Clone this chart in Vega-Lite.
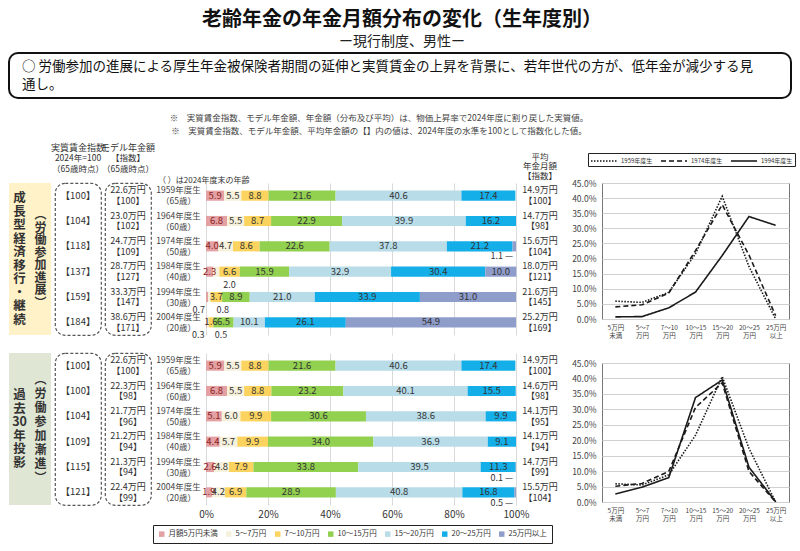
{
  "$schema": "https://vega.github.io/schema/vega-lite/v6.json",
  "background": "white",
  "padding": {"left": 8, "top": 10, "right": 0, "bottom": 0},
  "config": {
    "font": "Noto Sans CJK JP",
    "view": {"stroke": null},
    "text": {"font": "Noto Sans CJK JP", "color": "#333"},
    "axis": {"labelFont": "Noto Sans CJK JP"},
    "legend": {"labelFont": "Noto Sans CJK JP"},
    "title": {"font": "Noto Sans CJK JP", "subtitleFont": "Noto Sans CJK JP"}
  },
  "title": {
    "text": "老齢年金の年金月額分布の変化（生年度別）",
    "subtitle": "ー現行制度、男性ー",
    "fontSize": 20, "fontWeight": "bold", "color": "#111",
    "subtitleFontSize": 14, "subtitleColor": "#222", "subtitlePadding": 5,
    "anchor": "middle", "offset": 3
  },
  "datasets": {
    "dist": [
      {"s":"成長","cohort":"1959年度生","k":1,"cat":"月額5万円未満","v":5.9},
      {"s":"成長","cohort":"1959年度生","k":2,"cat":"5～7万円","v":5.5},
      {"s":"成長","cohort":"1959年度生","k":3,"cat":"7～10万円","v":8.8},
      {"s":"成長","cohort":"1959年度生","k":4,"cat":"10～15万円","v":21.6},
      {"s":"成長","cohort":"1959年度生","k":5,"cat":"15～20万円","v":40.6},
      {"s":"成長","cohort":"1959年度生","k":6,"cat":"20～25万円","v":17.4},
      {"s":"成長","cohort":"1959年度生","k":7,"cat":"25万円以上","v":0},
      {"s":"成長","cohort":"1964年度生","k":1,"cat":"月額5万円未満","v":6.8},
      {"s":"成長","cohort":"1964年度生","k":2,"cat":"5～7万円","v":5.5},
      {"s":"成長","cohort":"1964年度生","k":3,"cat":"7～10万円","v":8.7},
      {"s":"成長","cohort":"1964年度生","k":4,"cat":"10～15万円","v":22.9},
      {"s":"成長","cohort":"1964年度生","k":5,"cat":"15～20万円","v":39.9},
      {"s":"成長","cohort":"1964年度生","k":6,"cat":"20～25万円","v":16.2},
      {"s":"成長","cohort":"1964年度生","k":7,"cat":"25万円以上","v":0},
      {"s":"成長","cohort":"1974年度生","k":1,"cat":"月額5万円未満","v":4.0},
      {"s":"成長","cohort":"1974年度生","k":2,"cat":"5～7万円","v":4.7},
      {"s":"成長","cohort":"1974年度生","k":3,"cat":"7～10万円","v":8.6},
      {"s":"成長","cohort":"1974年度生","k":4,"cat":"10～15万円","v":22.6},
      {"s":"成長","cohort":"1974年度生","k":5,"cat":"15～20万円","v":37.8},
      {"s":"成長","cohort":"1974年度生","k":6,"cat":"20～25万円","v":21.2},
      {"s":"成長","cohort":"1974年度生","k":7,"cat":"25万円以上","v":1.1},
      {"s":"成長","cohort":"1984年度生","k":1,"cat":"月額5万円未満","v":2.3},
      {"s":"成長","cohort":"1984年度生","k":2,"cat":"5～7万円","v":2.0},
      {"s":"成長","cohort":"1984年度生","k":3,"cat":"7～10万円","v":6.6},
      {"s":"成長","cohort":"1984年度生","k":4,"cat":"10～15万円","v":15.9},
      {"s":"成長","cohort":"1984年度生","k":5,"cat":"15～20万円","v":32.9},
      {"s":"成長","cohort":"1984年度生","k":6,"cat":"20～25万円","v":30.4},
      {"s":"成長","cohort":"1984年度生","k":7,"cat":"25万円以上","v":10.0},
      {"s":"成長","cohort":"1994年度生","k":1,"cat":"月額5万円未満","v":0.7},
      {"s":"成長","cohort":"1994年度生","k":2,"cat":"5～7万円","v":0.8},
      {"s":"成長","cohort":"1994年度生","k":3,"cat":"7～10万円","v":3.7},
      {"s":"成長","cohort":"1994年度生","k":4,"cat":"10～15万円","v":8.9},
      {"s":"成長","cohort":"1994年度生","k":5,"cat":"15～20万円","v":21.0},
      {"s":"成長","cohort":"1994年度生","k":6,"cat":"20～25万円","v":33.9},
      {"s":"成長","cohort":"1994年度生","k":7,"cat":"25万円以上","v":31.0},
      {"s":"成長","cohort":"2004年度生","k":1,"cat":"月額5万円未満","v":0.3},
      {"s":"成長","cohort":"2004年度生","k":2,"cat":"5～7万円","v":0.5},
      {"s":"成長","cohort":"2004年度生","k":3,"cat":"7～10万円","v":1.6},
      {"s":"成長","cohort":"2004年度生","k":4,"cat":"10～15万円","v":6.5},
      {"s":"成長","cohort":"2004年度生","k":5,"cat":"15～20万円","v":10.1},
      {"s":"成長","cohort":"2004年度生","k":6,"cat":"20～25万円","v":26.1},
      {"s":"成長","cohort":"2004年度生","k":7,"cat":"25万円以上","v":54.9},
      {"s":"過去","cohort":"1959年度生","k":1,"cat":"月額5万円未満","v":5.9},
      {"s":"過去","cohort":"1959年度生","k":2,"cat":"5～7万円","v":5.5},
      {"s":"過去","cohort":"1959年度生","k":3,"cat":"7～10万円","v":8.8},
      {"s":"過去","cohort":"1959年度生","k":4,"cat":"10～15万円","v":21.6},
      {"s":"過去","cohort":"1959年度生","k":5,"cat":"15～20万円","v":40.6},
      {"s":"過去","cohort":"1959年度生","k":6,"cat":"20～25万円","v":17.4},
      {"s":"過去","cohort":"1959年度生","k":7,"cat":"25万円以上","v":0},
      {"s":"過去","cohort":"1964年度生","k":1,"cat":"月額5万円未満","v":6.8},
      {"s":"過去","cohort":"1964年度生","k":2,"cat":"5～7万円","v":5.5},
      {"s":"過去","cohort":"1964年度生","k":3,"cat":"7～10万円","v":8.8},
      {"s":"過去","cohort":"1964年度生","k":4,"cat":"10～15万円","v":23.2},
      {"s":"過去","cohort":"1964年度生","k":5,"cat":"15～20万円","v":40.1},
      {"s":"過去","cohort":"1964年度生","k":6,"cat":"20～25万円","v":15.5},
      {"s":"過去","cohort":"1964年度生","k":7,"cat":"25万円以上","v":0},
      {"s":"過去","cohort":"1974年度生","k":1,"cat":"月額5万円未満","v":5.1},
      {"s":"過去","cohort":"1974年度生","k":2,"cat":"5～7万円","v":6.0},
      {"s":"過去","cohort":"1974年度生","k":3,"cat":"7～10万円","v":9.9},
      {"s":"過去","cohort":"1974年度生","k":4,"cat":"10～15万円","v":30.6},
      {"s":"過去","cohort":"1974年度生","k":5,"cat":"15～20万円","v":38.6},
      {"s":"過去","cohort":"1974年度生","k":6,"cat":"20～25万円","v":9.9},
      {"s":"過去","cohort":"1974年度生","k":7,"cat":"25万円以上","v":0},
      {"s":"過去","cohort":"1984年度生","k":1,"cat":"月額5万円未満","v":4.4},
      {"s":"過去","cohort":"1984年度生","k":2,"cat":"5～7万円","v":5.7},
      {"s":"過去","cohort":"1984年度生","k":3,"cat":"7～10万円","v":9.9},
      {"s":"過去","cohort":"1984年度生","k":4,"cat":"10～15万円","v":34.0},
      {"s":"過去","cohort":"1984年度生","k":5,"cat":"15～20万円","v":36.9},
      {"s":"過去","cohort":"1984年度生","k":6,"cat":"20～25万円","v":9.1},
      {"s":"過去","cohort":"1984年度生","k":7,"cat":"25万円以上","v":0},
      {"s":"過去","cohort":"1994年度生","k":1,"cat":"月額5万円未満","v":2.6},
      {"s":"過去","cohort":"1994年度生","k":2,"cat":"5～7万円","v":4.8},
      {"s":"過去","cohort":"1994年度生","k":3,"cat":"7～10万円","v":7.9},
      {"s":"過去","cohort":"1994年度生","k":4,"cat":"10～15万円","v":33.8},
      {"s":"過去","cohort":"1994年度生","k":5,"cat":"15～20万円","v":39.5},
      {"s":"過去","cohort":"1994年度生","k":6,"cat":"20～25万円","v":11.3},
      {"s":"過去","cohort":"1994年度生","k":7,"cat":"25万円以上","v":0.1},
      {"s":"過去","cohort":"2004年度生","k":1,"cat":"月額5万円未満","v":1.9},
      {"s":"過去","cohort":"2004年度生","k":2,"cat":"5～7万円","v":4.2},
      {"s":"過去","cohort":"2004年度生","k":3,"cat":"7～10万円","v":6.9},
      {"s":"過去","cohort":"2004年度生","k":4,"cat":"10～15万円","v":28.9},
      {"s":"過去","cohort":"2004年度生","k":5,"cat":"15～20万円","v":40.8},
      {"s":"過去","cohort":"2004年度生","k":6,"cat":"20～25万円","v":16.8},
      {"s":"過去","cohort":"2004年度生","k":7,"cat":"25万円以上","v":0.5}
    ],
    "cols": [
      {"s":"成長","cohort":"1959年度生","age":"（65歳）","wage":"【100】","model":"22.6万円","mi":"【100】","avg":"14.9万円","ai":"【100】"},
      {"s":"成長","cohort":"1964年度生","age":"（60歳）","wage":"【104】","model":"23.0万円","mi":"【102】","avg":"14.7万円","ai":"【98】"},
      {"s":"成長","cohort":"1974年度生","age":"（50歳）","wage":"【118】","model":"24.7万円","mi":"【109】","avg":"15.6万円","ai":"【104】"},
      {"s":"成長","cohort":"1984年度生","age":"（40歳）","wage":"【137】","model":"28.7万円","mi":"【127】","avg":"18.0万円","ai":"【121】"},
      {"s":"成長","cohort":"1994年度生","age":"（30歳）","wage":"【159】","model":"33.3万円","mi":"【147】","avg":"21.6万円","ai":"【145】"},
      {"s":"成長","cohort":"2004年度生","age":"（20歳）","wage":"【184】","model":"38.6万円","mi":"【171】","avg":"25.2万円","ai":"【169】"},
      {"s":"過去","cohort":"1959年度生","age":"（65歳）","wage":"【100】","model":"22.6万円","mi":"【100】","avg":"14.9万円","ai":"【100】"},
      {"s":"過去","cohort":"1964年度生","age":"（60歳）","wage":"【100】","model":"22.3万円","mi":"【98】","avg":"14.6万円","ai":"【98】"},
      {"s":"過去","cohort":"1974年度生","age":"（50歳）","wage":"【104】","model":"21.7万円","mi":"【96】","avg":"14.1万円","ai":"【95】"},
      {"s":"過去","cohort":"1984年度生","age":"（40歳）","wage":"【109】","model":"21.2万円","mi":"【94】","avg":"14.1万円","ai":"【94】"},
      {"s":"過去","cohort":"1994年度生","age":"（30歳）","wage":"【115】","model":"21.3万円","mi":"【94】","avg":"14.7万円","ai":"【99】"},
      {"s":"過去","cohort":"2004年度生","age":"（20歳）","wage":"【121】","model":"22.4万円","mi":"【99】","avg":"15.5万円","ai":"【104】"}
    ],
    "sect": [
      {"s":"成長","part":"main","t":"成|長|型|経|済|移|行|・|継|続"},
      {"s":"成長","part":"sub","t":"︵|労|働|参|加|進|展|︶"},
      {"s":"過去","part":"main","t":"過|去|30|年|投|影"},
      {"s":"過去","part":"sub","t":"︵|労|働|参|加|漸|進|︶"}
    ]
  },
  "spacing": 7,
  "resolve": {"scale": {"color": "independent", "strokeDash": "independent"}},
  "vconcat": [
    {
      "bounds": "flush",
      "spacing": 14,
      "vconcat": [
        {
          "width": 782, "height": 45,
          "view": {"stroke": "#111", "strokeWidth": 2, "cornerRadius": 9, "fill": "white"},
          "data": {"values": [{"t": "○ 労働参加の進展による厚生年金被保険者期間の延伸と実質賃金の上昇を背景に、若年世代の方が、低年金が減少する見\n通し。"}]},
          "mark": {"type": "text", "align": "left", "baseline": "middle", "fontSize": 13.5, "lineBreak": "\n", "lineHeight": 18, "dx": 13, "dy": -9, "color": "#111"},
          "encoding": {
            "x": {"datum": 0, "type": "quantitative", "scale": {"domain": [0, 1]}, "axis": null},
            "text": {"field": "t"}
          }
        },
        {
          "width": 740, "height": 24,
          "data": {"values": [{"t": "※　実質賃金指数、モデル年金額、年金額（分布及び平均）は、物価上昇率で2024年度に割り戻した実質値。\n※　実質賃金指数、モデル年金額、平均年金額の【】内の値は、2024年度の水準を100として指数化した値。"}]},
          "mark": {"type": "text", "align": "center", "baseline": "middle", "fontSize": 8.5, "lineBreak": "\n", "lineHeight": 13, "dy": -6.5, "color": "#444"},
          "encoding": {"text": {"field": "t"}}
        }
      ]
    },
    {
      "spacing": 11,
      "resolve": {"scale": {"color": "independent", "strokeDash": "independent"}},
      "hconcat": [
        {
          "spacing": 11,
          "resolve": {"scale": {"color": "independent"}},
          "vconcat": [
            {
              "bounds": "flush",
              "spacing": 4,
              "resolve": {"scale": {"color": "independent"}},
              "hconcat": [
                {
                  "width": 42, "height": 152,
                  "view": {"fill": "#fff2c8", "stroke": null},
                  "data": {"name": "sect"},
                  "transform": [{"filter": "datum.s == '成長'"}],
                  "encoding": {
                    "x": {"field": "part", "type": "nominal", "axis": null, "scale": {"domain": ["main", "sub"], "padding": 0.5}},
                    "text": {"field": "t"}
                  },
                  "layer": [
                    {
                      "transform": [{"filter": "datum.part == 'main'"}],
                      "mark": {"type": "text", "lineBreak": "|", "fontSize": 12.5, "lineHeight": 13.5, "dy": -60.75, "fontWeight": "bold", "baseline": "middle", "color": "#333"}
                    },
                    {
                      "transform": [{"filter": "datum.part == 'sub'"}],
                      "mark": {"type": "text", "lineBreak": "|", "fontSize": 12, "lineHeight": 12.5, "dy": -43.75, "fontWeight": "bold", "baseline": "middle", "color": "#333"}
                    }
                  ]
                },
                {
                  "width": 46, "height": 152,
                  "view": {"stroke": "#555", "strokeDash": [3, 2], "strokeWidth": 1.2, "cornerRadius": 10},
                  "title": {"text": "実質賃金指数", "subtitle": ["2024年=100", "（65歳時点）"], "fontSize": 9, "fontWeight": "normal", "color": "#333", "subtitleFontSize": 8.5, "subtitleColor": "#333", "subtitlePadding": 1, "subtitleLineHeight": 10.5, "offset": 10, "anchor": "middle"},
                  "data": {"name": "cols"},
                  "transform": [{"filter": "datum.s == '成長'"}],
                  "mark": {"type": "text", "fontSize": 9.5},
                  "encoding": {
                    "y": {"field": "cohort", "type": "nominal", "axis": null},
                    "text": {"field": "wage"}
                  }
                },
                {
                  "width": 46, "height": 152,
                  "view": {"stroke": "#555", "strokeDash": [3, 2], "strokeWidth": 1.2, "cornerRadius": 10},
                  "title": {"text": "モデル年金額", "subtitle": ["【指数】", "（65歳時点）"], "fontSize": 9, "fontWeight": "normal", "color": "#333", "subtitleFontSize": 8.5, "subtitleColor": "#333", "subtitlePadding": 1, "subtitleLineHeight": 10.5, "offset": 10, "anchor": "middle"},
                  "data": {"name": "cols"},
                  "transform": [
                    {"filter": "datum.s == '成長'"},
                    {"calculate": "datum.model + '\\n' + datum.mi", "as": "lbl"}
                  ],
                  "mark": {"type": "text", "fontSize": 9, "lineBreak": "\n", "lineHeight": 10.5, "dy": -5.25},
                  "encoding": {
                    "y": {"field": "cohort", "type": "nominal", "axis": null},
                    "text": {"field": "lbl"}
                  }
                },
                {
                  "width": 47, "height": 152,
                  "title": {"text": "（ ）は2024年度末の年齢", "fontSize": 8, "fontWeight": "normal", "color": "#333", "anchor": "start", "offset": -2, "dx": 3},
                  "data": {"name": "cols"},
                  "transform": [
                    {"filter": "datum.s == '成長'"},
                    {"calculate": "datum.cohort + '\\n' + datum.age", "as": "lbl"}
                  ],
                  "mark": {"type": "text", "fontSize": 8.5, "lineBreak": "\n", "lineHeight": 11, "dy": -5.5, "color": "#444"},
                  "encoding": {
                    "y": {"field": "cohort", "type": "nominal", "axis": null},
                    "text": {"field": "lbl"}
                  }
                },
                {
                  "width": 310, "height": 152,
                  "data": {"name": "dist"},
                  "transform": [
                    {"filter": "datum.s == '成長'"},
                    {"stack": "v", "groupby": ["cohort"], "sort": [{"field": "k", "order": "ascending"}], "as": ["x0", "x1"]},
                    {"calculate": "(datum.x0 + datum.x1) / 2", "as": "xm"}
                  ],
                  "encoding": {
                    "y": {"field": "cohort", "type": "nominal", "axis": null, "scale": {"paddingInner": 0.6, "paddingOuter": 0.3}}
                  },
                  "layer": [
                    {
                      "mark": {"type": "bar"},
                      "encoding": {
                        "x": {"field": "x0", "type": "quantitative", "scale": {"domain": [0, 100], "nice": false}, "axis": {"title": null, "grid": true, "gridColor": "#dadada", "labels": false, "ticks": false, "domain": false, "values": [0, 20, 40, 60, 80, 100]}},
                        "x2": {"field": "x1"},
                        "color": {"field": "cat", "type": "nominal", "scale": {"domain": ["月額5万円未満", "5～7万円", "7～10万円", "10～15万円", "15～20万円", "20～25万円", "25万円以上"], "range": ["#e3a1a4", "#f6f1dc", "#fcd35f", "#92d050", "#b8dce8", "#14aee8", "#8f9dcb"]}, "legend": null}
                      }
                    },
                    {
                      "transform": [{"filter": "datum.v >= 1.5 && !(datum.k == 2 && datum.v <= 2)"}],
                      "mark": {"type": "text", "fontSize": 9.5},
                      "encoding": {
                        "x": {"field": "xm", "type": "quantitative"},
                        "text": {"field": "v", "type": "quantitative", "format": ".1f"},
                        "color": {"condition": {"test": "datum.k == 1", "value": "#8b1e1e"}, "value": "#333"}
                      }
                    },
                    {
                      "transform": [{"filter": "datum.k == 1 && datum.v > 0 && datum.v < 1.5"}],
                      "mark": {"type": "text", "fontSize": 9, "align": "right", "dx": -2, "dy": 13, "color": "#333"},
                      "encoding": {
                        "x": {"field": "xm", "type": "quantitative"},
                        "text": {"field": "v", "type": "quantitative", "format": ".1f"}
                      }
                    },
                    {
                      "transform": [{"filter": "datum.k == 2 && datum.v > 0 && datum.v <= 2"}],
                      "mark": {"type": "text", "fontSize": 9, "align": "left", "dx": 7, "dy": 13, "color": "#333"},
                      "encoding": {
                        "x": {"field": "xm", "type": "quantitative"},
                        "text": {"field": "v", "type": "quantitative", "format": ".1f"}
                      }
                    },
                    {
                      "transform": [
                        {"filter": "datum.k == 7 && datum.v > 0 && datum.v < 1.5"},
                        {"calculate": "format(datum.v, '.1f') + ' —'", "as": "lbl"}
                      ],
                      "mark": {"type": "text", "fontSize": 9, "align": "right", "dx": -3, "dy": 10, "color": "#333"},
                      "encoding": {
                        "x": {"field": "x1", "type": "quantitative"},
                        "text": {"field": "lbl"}
                      }
                    }
                  ]
                },
                {
                  "width": 40, "height": 152,
                  "title": {"text": ["平均", "年金月額", "【指数】"], "fontSize": 8.5, "fontWeight": "normal", "color": "#333", "lineHeight": 9.5, "offset": 3, "anchor": "middle"},
                  "data": {"name": "cols"},
                  "transform": [
                    {"filter": "datum.s == '成長'"},
                    {"calculate": "datum.avg + '\\n' + datum.ai", "as": "lbl"}
                  ],
                  "mark": {"type": "text", "fontSize": 9, "lineBreak": "\n", "lineHeight": 10.5, "dy": -5.25},
                  "encoding": {
                    "y": {"field": "cohort", "type": "nominal", "axis": null},
                    "text": {"field": "lbl"}
                  }
                }
              ]
            },
            {
              "bounds": "flush",
              "spacing": 4,
              "resolve": {"scale": {"color": "independent"}},
              "hconcat": [
                {
                  "width": 42, "height": 152,
                  "view": {"fill": "#dfe6d3", "stroke": null},
                  "data": {"name": "sect"},
                  "transform": [{"filter": "datum.s == '過去'"}],
                  "encoding": {
                    "x": {"field": "part", "type": "nominal", "axis": null, "scale": {"domain": ["main", "sub"], "padding": 0.5}},
                    "text": {"field": "t"}
                  },
                  "layer": [
                    {
                      "transform": [{"filter": "datum.part == 'main'"}],
                      "mark": {"type": "text", "lineBreak": "|", "fontSize": 12.5, "lineHeight": 13.5, "dy": -33.75, "fontWeight": "bold", "baseline": "middle", "color": "#333"}
                    },
                    {
                      "transform": [{"filter": "datum.part == 'sub'"}],
                      "mark": {"type": "text", "lineBreak": "|", "fontSize": 12, "lineHeight": 14, "dy": -49, "fontWeight": "bold", "baseline": "middle", "color": "#333"}
                    }
                  ]
                },
                {
                  "width": 46, "height": 152,
                  "view": {"stroke": "#555", "strokeDash": [3, 2], "strokeWidth": 1.2, "cornerRadius": 10},
                  "data": {"name": "cols"},
                  "transform": [{"filter": "datum.s == '過去'"}],
                  "mark": {"type": "text", "fontSize": 9.5},
                  "encoding": {
                    "y": {"field": "cohort", "type": "nominal", "axis": null},
                    "text": {"field": "wage"}
                  }
                },
                {
                  "width": 46, "height": 152,
                  "view": {"stroke": "#555", "strokeDash": [3, 2], "strokeWidth": 1.2, "cornerRadius": 10},
                  "data": {"name": "cols"},
                  "transform": [
                    {"filter": "datum.s == '過去'"},
                    {"calculate": "datum.model + '\\n' + datum.mi", "as": "lbl"}
                  ],
                  "mark": {"type": "text", "fontSize": 9, "lineBreak": "\n", "lineHeight": 10.5, "dy": -5.25},
                  "encoding": {
                    "y": {"field": "cohort", "type": "nominal", "axis": null},
                    "text": {"field": "lbl"}
                  }
                },
                {
                  "width": 47, "height": 152,
                  "data": {"name": "cols"},
                  "transform": [
                    {"filter": "datum.s == '過去'"},
                    {"calculate": "datum.cohort + '\\n' + datum.age", "as": "lbl"}
                  ],
                  "mark": {"type": "text", "fontSize": 8.5, "lineBreak": "\n", "lineHeight": 11, "dy": -5.5, "color": "#444"},
                  "encoding": {
                    "y": {"field": "cohort", "type": "nominal", "axis": null},
                    "text": {"field": "lbl"}
                  }
                },
                {
                  "width": 310, "height": 152,
                  "data": {"name": "dist"},
                  "transform": [
                    {"filter": "datum.s == '過去'"},
                    {"stack": "v", "groupby": ["cohort"], "sort": [{"field": "k", "order": "ascending"}], "as": ["x0", "x1"]},
                    {"calculate": "(datum.x0 + datum.x1) / 2", "as": "xm"}
                  ],
                  "encoding": {
                    "y": {"field": "cohort", "type": "nominal", "axis": null, "scale": {"paddingInner": 0.6, "paddingOuter": 0.3}}
                  },
                  "layer": [
                    {
                      "mark": {"type": "bar"},
                      "encoding": {
                        "x": {"field": "x0", "type": "quantitative", "scale": {"domain": [0, 100], "nice": false}, "axis": {"title": null, "grid": true, "gridColor": "#dadada", "ticks": false, "domain": false, "values": [0, 20, 40, 60, 80, 100], "labelExpr": "datum.value + '%'", "labelFlush": false, "labelFontSize": 10, "labelColor": "#333", "labelPadding": 4}},
                        "x2": {"field": "x1"},
                        "color": {
                          "field": "cat", "type": "nominal",
                          "scale": {"domain": ["月額5万円未満", "5～7万円", "7～10万円", "10～15万円", "15～20万円", "20～25万円", "25万円以上"], "range": ["#e3a1a4", "#f6f1dc", "#fcd35f", "#92d050", "#b8dce8", "#14aee8", "#8f9dcb"]},
                          "legend": {"orient": "none", "legendX": -53, "legendY": 172, "direction": "horizontal", "title": null, "strokeColor": "#222", "fillColor": "white", "padding": 5, "labelFontSize": 7.5, "labelColor": "#333", "labelOffset": 3, "symbolType": "square", "symbolSize": 30, "symbolStrokeWidth": 0, "columnPadding": 7}
                        }
                      }
                    },
                    {
                      "transform": [{"filter": "datum.v >= 1.5 && !(datum.k == 2 && datum.v <= 2)"}],
                      "mark": {"type": "text", "fontSize": 9.5},
                      "encoding": {
                        "x": {"field": "xm", "type": "quantitative"},
                        "text": {"field": "v", "type": "quantitative", "format": ".1f"},
                        "color": {"condition": {"test": "datum.k == 1", "value": "#8b1e1e"}, "value": "#333"}
                      }
                    },
                    {
                      "transform": [
                        {"filter": "datum.k == 7 && datum.v > 0 && datum.v < 1.5"},
                        {"calculate": "format(datum.v, '.1f') + ' —'", "as": "lbl"}
                      ],
                      "mark": {"type": "text", "fontSize": 9, "align": "right", "dx": -3, "dy": 11, "color": "#333"},
                      "encoding": {
                        "x": {"field": "x1", "type": "quantitative"},
                        "text": {"field": "lbl"}
                      }
                    }
                  ]
                },
                {
                  "width": 40, "height": 152,
                  "data": {"name": "cols"},
                  "transform": [
                    {"filter": "datum.s == '過去'"},
                    {"calculate": "datum.avg + '\\n' + datum.ai", "as": "lbl"}
                  ],
                  "mark": {"type": "text", "fontSize": 9, "lineBreak": "\n", "lineHeight": 10.5, "dy": -5.25},
                  "encoding": {
                    "y": {"field": "cohort", "type": "nominal", "axis": null},
                    "text": {"field": "lbl"}
                  }
                }
              ]
            }
          ]
        },
        {
          "bounds": "flush",
          "spacing": 44,
          "resolve": {"scale": {"strokeDash": "independent"}},
          "vconcat": [
            {
              "width": 187, "height": 136,
              "view": {"stroke": "#777", "strokeWidth": 1},
              "data": {"name": "dist"},
              "transform": [{"filter": "datum.s == '成長' && indexof(['1959年度生', '1974年度生', '1994年度生'], datum.cohort) >= 0"}],
              "mark": {"type": "line", "color": "#1a1a1a", "strokeWidth": 1.6},
              "encoding": {
                "x": {"field": "k", "type": "ordinal", "scale": {"padding": 0.5}, "axis": {"title": null, "labelAngle": 0, "labelFontSize": 6.5, "labelLineHeight": 8, "labelColor": "#444", "ticks": false, "domain": false, "labelPadding": 5, "labelExpr": "[['5万円','未満'],['5～7','万円'],['7～10','万円'],['10～15','万円'],['15～20','万円'],['20～25','万円'],['25万円','以上']][datum.value - 1]"}},
                "y": {"field": "v", "type": "quantitative", "scale": {"domain": [0, 45], "nice": false}, "axis": {"title": null, "values": [0, 5, 10, 15, 20, 25, 30, 35, 40, 45], "labelExpr": "format(datum.value, '.1f') + '%'", "grid": true, "gridColor": "#d0d0d0", "ticks": false, "domain": false, "labelFontSize": 8.5, "labelColor": "#444", "labelPadding": 6}},
                "strokeDash": {
                  "field": "cohort", "type": "nominal",
                  "scale": {"domain": ["1959年度生", "1974年度生", "1994年度生"], "range": [[1.5, 1.5], [5, 3], [1, 0]]},
                  "legend": {"orient": "none", "legendX": -14, "legendY": -30, "direction": "horizontal", "title": null, "strokeColor": "#222", "fillColor": "white", "padding": 2, "labelFontSize": 6, "labelColor": "#333", "labelOffset": 19, "symbolType": "M-1,0H4.2", "symbolSize": 100, "symbolFillColor": "transparent", "symbolStrokeColor": "#111", "symbolStrokeWidth": 1.5, "columnPadding": 5}
                }
              }
            },
            {
              "width": 187, "height": 139,
              "view": {"stroke": "#777", "strokeWidth": 1},
              "data": {"name": "dist"},
              "transform": [{"filter": "datum.s == '過去' && indexof(['1959年度生', '1974年度生', '1994年度生'], datum.cohort) >= 0"}],
              "mark": {"type": "line", "color": "#1a1a1a", "strokeWidth": 1.6},
              "encoding": {
                "x": {"field": "k", "type": "ordinal", "scale": {"padding": 0.5}, "axis": {"title": null, "labelAngle": 0, "labelFontSize": 6.5, "labelLineHeight": 8, "labelColor": "#444", "ticks": false, "domain": false, "labelPadding": 5, "labelExpr": "[['5万円','未満'],['5～7','万円'],['7～10','万円'],['10～15','万円'],['15～20','万円'],['20～25','万円'],['25万円','以上']][datum.value - 1]"}},
                "y": {"field": "v", "type": "quantitative", "scale": {"domain": [0, 45], "nice": false}, "axis": {"title": null, "values": [0, 5, 10, 15, 20, 25, 30, 35, 40, 45], "labelExpr": "format(datum.value, '.1f') + '%'", "grid": true, "gridColor": "#d0d0d0", "ticks": false, "domain": false, "labelFontSize": 8.5, "labelColor": "#444", "labelPadding": 6}},
                "strokeDash": {
                  "field": "cohort", "type": "nominal",
                  "scale": {"domain": ["1959年度生", "1974年度生", "1994年度生"], "range": [[1.5, 1.5], [5, 3], [1, 0]]},
                  "legend": null
                }
              }
            }
          ]
        }
      ]
    }
  ]
}
